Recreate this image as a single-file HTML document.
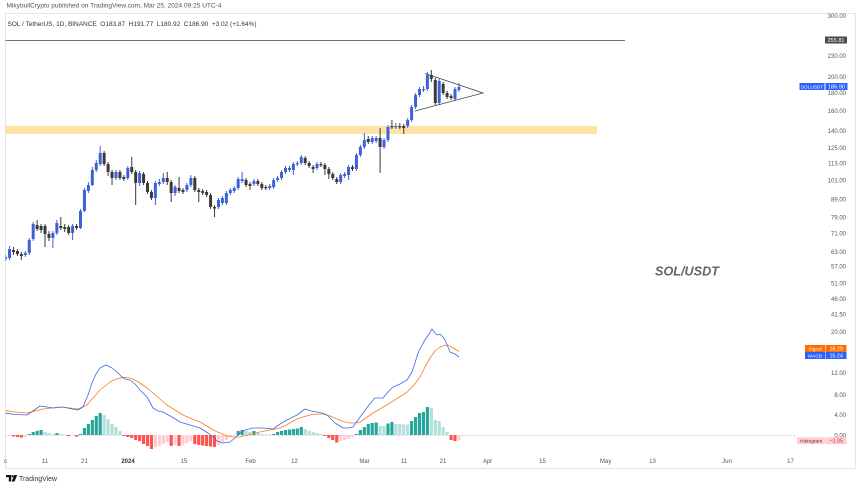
<!DOCTYPE html>
<html><head><meta charset="utf-8"><style>
html,body{margin:0;padding:0;background:#fff;}
svg{display:block;}
text{font-family:"Liberation Sans",sans-serif;}
</style></head><body>
<svg width="860" height="488" viewBox="0 0 860 488" xmlns="http://www.w3.org/2000/svg">
<defs><clipPath id="c"><rect x="5.5" y="13.5" width="790" height="454"/></clipPath></defs>
<rect x="0" y="0" width="860" height="488" fill="#fff"/>
<text x="6.5" y="7.6" font-size="6.1" fill="#555" textLength="215" lengthAdjust="spacingAndGlyphs">MikybullCrypto published on TradingView.com, Mar 25, 2024 09:25 UTC-4</text>
<rect x="5.5" y="13.5" width="850" height="455" fill="none" stroke="#e3e5ea" stroke-width="1"/>
<text x="7.5" y="26" font-size="6.3" fill="#333" textLength="249" lengthAdjust="spacingAndGlyphs" xml:space="preserve">SOL / TetherUS, 1D, BINANCE  O183.87  H191.77  L180.92  C186.90  +3.02 (+1.64%)</text>

<!-- yellow zone & resistance line -->
<rect x="5.5" y="126" width="591.5" height="8" fill="#fde4a6"/>
<line x1="5.5" y1="40.5" x2="625" y2="40.5" stroke="#444" stroke-width="0.7"/>

<!-- watermark -->
<text x="687" y="275.5" text-anchor="middle" font-size="12.5" font-weight="bold" font-style="italic" fill="#666" textLength="64" lengthAdjust="spacingAndGlyphs">SOL/USDT</text>

<g clip-path="url(#c)">
<line x1="5.5" y1="435.5" x2="795" y2="435.5" stroke="#a0a3ab" stroke-width="0.6" stroke-dasharray="2,2"/>
<g transform="translate(5.6 0) scale(3.942 1)">
<!-- candles up -->
<path fill="none" stroke="#3d62d8" stroke-width="1" vector-effect="non-scaling-stroke" d="M0 255V261M1 246V260M5 251V257M6 238V255M7 222V241M12 231V248M13 220V235M17 224V240M19 209V229M20 188V212M21 182V193M22 167V186M23 160V172M24 146V166M28 170V180M31 166V180M34 171V186M38 181V205M39 179V186M40 173V184M43 185V196M46 183V192M47 175V187M54 198V209M55 196V205M56 191V205M57 188V195M58 186V193M59 177V190M60 172V183M63 179V186M67 184V190M68 178V189M69 176V182M70 170V180M71 166V174M72 166V172M73 162V175M74 161V166M75 155V165M79 162V170M85 173V184M86 172V178M87 165V180M89 153V171M90 145V157M91 133V149M93 136V144M94 136V143M96 138V149M97 125V142M99 123V129M102 118V128M103 105V122M104 93V109M105 87V97M106 86V92M107 72V91M110 79V105M114 87V101M115 83V92"/>
<path fill="#3d62d8" d="M-.38 257h.76v2h-.76zM.62 249h.76v9h-.76zM4.62 253h.76v2h-.76zM5.62 240h.76v13h-.76zM6.62 224h.76v15h-.76zM11.62 233h.76v5h-.76zM12.62 223h.76v10h-.76zM16.62 226h.76v7h-.76zM18.62 211h.76v17h-.76zM19.62 190h.76v21h-.76zM20.62 185h.76v6h-.76zM21.62 170h.76v15h-.76zM22.62 163h.76v7h-.76zM23.62 153h.76v11h-.76zM27.62 172h.76v6h-.76zM30.62 168h.76v10h-.76zM33.62 173h.76v10h-.76zM37.62 183h.76v15h-.76zM38.62 182h.76v2h-.76zM39.62 178h.76v4h-.76zM42.62 187h.76v6h-.76zM45.62 185h.76v5h-.76zM46.62 178h.76v7h-.76zM53.62 200h.76v7h-.76zM54.62 198h.76v5h-.76zM55.62 193h.76v10h-.76zM56.62 190h.76v3h-.76zM57.62 188h.76v3h-.76zM58.62 179h.76v9h-.76zM59.62 179h.76v2h-.76zM62.62 181h.76v3h-.76zM66.62 186h.76v2h-.76zM67.62 180h.76v7h-.76zM68.62 178h.76v2h-.76zM69.62 172h.76v6h-.76zM70.62 168h.76v4h-.76zM71.62 168h.76v2h-.76zM72.62 164h.76v6h-.76zM73.62 163h.76v1.2h-.76zM74.62 157h.76v6h-.76zM78.62 164h.76v4h-.76zM84.62 175h.76v7h-.76zM85.62 174h.76v2h-.76zM86.62 167h.76v8h-.76zM88.62 155h.76v14h-.76zM89.62 147h.76v8h-.76zM90.62 140h.76v7h-.76zM92.62 138h.76v4h-.76zM93.62 138h.76v3h-.76zM95.62 140h.76v7h-.76zM96.62 127h.76v13h-.76zM98.62 126h.76v1.2h-.76zM101.62 120h.76v6h-.76zM102.62 107h.76v13h-.76zM103.62 95h.76v12h-.76zM104.62 89h.76v6h-.76zM105.62 89h.76v1.2h-.76zM106.62 75h.76v14h-.76zM109.62 81h.76v22h-.76zM113.62 89h.76v10h-.76zM114.62 87h.76v3h-.76z"/>
<!-- candles down -->
<path fill="none" stroke="#3a3a3a" stroke-width="1" vector-effect="non-scaling-stroke" d="M2 247V255M3 249V256M4 252V260M8 220V231M9 224V233M10 224V247M11 231V241M14 217V230M15 224V232M16 225V235M18 224V230M25 151V166M26 162V176M27 170V185M29 170V180M30 175V181M32 157V174M33 170V205M35 172V185M36 181V194M37 190V200M41 172V185M42 180V202M44 177V193M45 188V194M48 176V192M49 188V202M50 189V195M51 190V197M52 193V209M53 205V217M61 178V187M62 182V190M64 179V186M65 182V190M66 185V190M76 156V165M77 161V168M78 165V173M80 162V167M81 163V175M82 167V179M83 172V180M84 177V184M88 165V171M92 136V144M95 128V173M98 120V129M100 123V129M101 124V134M108 70V82M109 78V105M111 82V95M112 91V99M113 94V100"/>
<path fill="#3a3a3a" d="M1.62 250h.76v2h-.76zM2.62 251h.76v3h-.76zM3.62 254h.76v2h-.76zM7.62 225h.76v4h-.76zM8.62 226h.76v4h-.76zM9.62 226h.76v8h-.76zM10.62 234h.76v4h-.76zM13.62 226h.76v2h-.76zM14.62 227h.76v2h-.76zM15.62 227h.76v6h-.76zM17.62 226h.76v2h-.76zM24.62 153h.76v11h-.76zM25.62 164h.76v8h-.76zM26.62 172h.76v6h-.76zM28.62 172h.76v6h-.76zM29.62 177h.76v2h-.76zM31.62 167h.76v5h-.76zM32.62 172h.76v11h-.76zM34.62 174h.76v9h-.76zM35.62 183h.76v9h-.76zM36.62 192h.76v6h-.76zM40.62 178h.76v4h-.76zM41.62 182h.76v11h-.76zM43.62 188h.76v3h-.76zM44.62 190h.76v2h-.76zM47.62 178h.76v12h-.76zM48.62 190h.76v2h-.76zM49.62 191h.76v2h-.76zM50.62 192h.76v3h-.76zM51.62 195h.76v12h-.76zM52.62 207h.76v1.5h-.76zM60.62 180h.76v5h-.76zM61.62 184h.76v2h-.76zM63.62 181h.76v3h-.76zM64.62 184h.76v4h-.76zM65.62 187h.76v1.2h-.76zM75.62 158h.76v5h-.76zM76.62 163h.76v3h-.76zM77.62 167h.76v2h-.76zM79.62 164h.76v1.2h-.76zM80.62 165h.76v4h-.76zM81.62 169h.76v5h-.76zM82.62 174h.76v4h-.76zM83.62 179h.76v3h-.76zM87.62 167h.76v2h-.76zM91.62 139h.76v3h-.76zM94.62 138h.76v9h-.76zM97.62 126h.76v1.2h-.76zM99.62 126h.76v1.2h-.76zM100.62 126h.76v2h-.76zM107.62 75h.76v4h-.76zM108.62 80h.76v23h-.76zM110.62 84h.76v9h-.76zM111.62 93h.76v4h-.76zM112.62 96h.76v2h-.76z"/>
<!-- histogram -->
<path fill="#26a69a" d="M5.6 434h.8v1h-.8zM6.6 432h.8v3h-.8zM7.6 431h.8v4h-.8zM8.6 430h.8v5h-.8zM12.6 433h.8v2h-.8zM18.6 434h.8v1h-.8zM19.6 428h.8v7h-.8zM20.6 424h.8v11h-.8zM21.6 420h.8v15h-.8zM22.6 416h.8v19h-.8zM23.6 413h.8v22h-.8zM58.6 431h.8v4h-.8zM59.6 430h.8v5h-.8zM62.6 431h.8v4h-.8zM67.6 434h.8v1h-.8zM68.6 432h.8v3h-.8zM69.6 431h.8v4h-.8zM70.6 430h.8v5h-.8zM71.6 429.5h.8v5.5h-.8zM72.6 429h.8v6h-.8zM73.6 428.5h.8v6.5h-.8zM74.6 427h.8v8h-.8zM88.6 434h.8v1h-.8zM89.6 430h.8v5h-.8zM90.6 427h.8v8h-.8zM91.6 424h.8v11h-.8zM92.6 423h.8v12h-.8zM93.6 422.5h.8v12.5h-.8zM96.6 423.5h.8v11.5h-.8zM97.6 422h.8v13h-.8zM102.6 421h.8v14h-.8zM103.6 417h.8v18h-.8zM104.6 413h.8v22h-.8zM105.6 412h.8v23h-.8zM106.6 407h.8v28h-.8z"/>
<path fill="#b2dfdb" d="M9.6 432h.8v3h-.8zM10.6 433h.8v2h-.8zM11.6 434h.8v1h-.8zM13.6 434h.8v1h-.8zM14.6 434.5h.8v.5h-.8zM24.6 415h.8v20h-.8zM25.6 419h.8v16h-.8zM26.6 424h.8v11h-.8zM27.6 427h.8v8h-.8zM28.6 431h.8v4h-.8zM60.6 431h.8v4h-.8zM61.6 432h.8v3h-.8zM63.6 433h.8v2h-.8zM64.6 434h.8v1h-.8zM65.6 434.5h.8v.5h-.8zM66.6 434.5h.8v.5h-.8zM75.6 429h.8v6h-.8zM76.6 431h.8v4h-.8zM77.6 432h.8v3h-.8zM78.6 433h.8v2h-.8zM79.6 434h.8v1h-.8zM94.6 426h.8v9h-.8zM95.6 426h.8v9h-.8zM98.6 424h.8v11h-.8zM99.6 424h.8v11h-.8zM100.6 424.5h.8v10.5h-.8zM101.6 424.5h.8v10.5h-.8zM107.6 408h.8v27h-.8zM108.6 420h.8v15h-.8zM109.6 421h.8v14h-.8zM110.6 427h.8v8h-.8zM111.6 432h.8v3h-.8z"/>
<path fill="#ff5252" d="M1.6 435h.8v1.5h-.8zM2.6 435h.8v2h-.8zM3.6 435h.8v2.5h-.8zM15.6 435h.8v1h-.8zM17.6 435h.8v1.5h-.8zM29.6 435h.8v1h-.8zM30.6 435h.8v2h-.8zM31.6 435h.8v3h-.8zM32.6 435h.8v5h-.8zM33.6 435h.8v6h-.8zM34.6 435h.8v9h-.8zM35.6 435h.8v11h-.8zM36.6 435h.8v14h-.8zM41.6 435h.8v11h-.8zM43.6 435h.8v11h-.8zM47.6 435h.8v9h-.8zM48.6 435h.8v10h-.8zM49.6 435h.8v10.5h-.8zM50.6 435h.8v11h-.8zM51.6 435h.8v11.5h-.8zM52.6 435h.8v12h-.8zM80.6 435h.8v1h-.8zM81.6 435h.8v3h-.8zM82.6 435h.8v5h-.8zM83.6 435h.8v7.5h-.8zM112.6 435h.8v5h-.8zM113.6 435h.8v6h-.8z"/>
<path fill="#ffcdd2" d="M-.4 435h.8v1h-.8zM.6 435h.8v1h-.8zM4.6 435h.8v2h-.8zM16.6 435h.8v.5h-.8zM37.6 435h.8v12h-.8zM38.6 435h.8v11h-.8zM39.6 435h.8v9h-.8zM40.6 435h.8v7h-.8zM42.6 435h.8v10h-.8zM44.6 435h.8v10h-.8zM45.6 435h.8v8h-.8zM46.6 435h.8v6h-.8zM53.6 435h.8v10h-.8zM54.6 435h.8v7h-.8zM55.6 435h.8v5h-.8zM56.6 435h.8v2h-.8zM57.6 435h.8v1h-.8zM84.6 435h.8v6h-.8zM85.6 435h.8v5h-.8zM86.6 435h.8v4h-.8zM87.6 435h.8v2h-.8zM114.6 435h.8v5.4h-.8z"/>
</g>
<!-- MACD lines -->
<polyline fill="none" stroke="#ff7a1a" stroke-width="0.8" stroke-linejoin="round" points="5,410.5 15,412 27,413 35,411 43,409 52,408 60,407 70,408 78,409 87,405 93,398 100,390 105,386 110,382 115,379.5 120,378 125,377.5 130,378 135,380 140,383 147,388 153,393 160,399 167,405 175,410 183,415 192,419 200,422 207,426 213,430 220,433 227,436 233,437 240,437 248,435 260,432 270,430 280,428 288,424 297,419 303,417 310,415 317,414 323,414 330,416 337,419 343,421.5 350,423 355,423 360,422 366,418 373,413 380,409 390,403 398,398 407,392 414,385 420,377 425,367 430,358 435,351 440,347 444,345.5 447,345 450,346 453,348 459,351.5"/>
<polyline fill="none" stroke="#3b6ae8" stroke-width="0.8" stroke-linejoin="round" points="5,413 15,414.5 27,415 33,411 40,406 47,407 53,408 63,407 72,409 78,410 83,407 88,395 92,383 96,374 100,368 106,365 112,368 117,372 122,377 125,379 130,380 135,384 140,390 147,397 153,408 158,411 163,412 172,417 180,422 190,425 200,428 208,433 213,437 217,441 223,443 230,442 235,438 240,433 245,430 253,428 263,428 273,429 280,424 287,420 297,415 305,409 311,411 317,412 322,413 327,415 331,419 335,423 340,426 343,428 348,428 353,427 358,420 363,413 369,405 375,398 379,398 383,398 388,392 393,387 400,384 407,380 412,372 415,363 418,353 422,345 425,340 429,334 432,329 435,333 437,335 440,334 443,337 445,340 448,347 450,352 455,354 459,357"/>
</g>

<!-- triangle -->
<path d="M425 73.5L483 93L415 111" fill="none" stroke="#444" stroke-width="0.8"/>

<!-- price axis labels -->
<g font-size="6" fill="#555" text-anchor="end">
<text x="846" y="18.1">300.00</text>
<text x="846" y="58">230.00</text>
<text x="846" y="79.1">200.00</text>
<text x="846" y="95">180.00</text>
<text x="846" y="112.8">160.00</text>
<text x="846" y="133.1">140.00</text>
<text x="846" y="150.1">125.00</text>
<text x="846" y="165.3">113.00</text>
<text x="846" y="182.3">101.00</text>
<text x="846" y="201.4">89.00</text>
<text x="846" y="219.4">79.00</text>
<text x="846" y="235.5">71.00</text>
<text x="846" y="253.8">63.00</text>
<text x="846" y="268.7">57.00</text>
<text x="846" y="285.4">51.00</text>
<text x="846" y="301">46.00</text>
<text x="846" y="316.6">41.50</text>
<text x="846" y="334.1">20.00</text>
<text x="846" y="374.8">12.00</text>
<text x="846" y="397">8.00</text>
<text x="846" y="417">4.00</text>
<text x="846" y="437.5">0.00</text>
</g>
<!-- price labels boxes -->
<rect x="825" y="36.5" width="22" height="7" fill="#4a4a4a"/>
<text x="836" y="42" font-size="5.6" fill="#fff" text-anchor="middle">255.81</text>
<rect x="799.5" y="83" width="25" height="7" fill="#2962ff"/>
<text x="812" y="88.3" font-size="4.8" fill="#fff" text-anchor="middle">SOLUSDT</text>
<rect x="825.5" y="83" width="22" height="7" fill="#2962ff"/>
<text x="836.5" y="88.5" font-size="5.6" fill="#fff" text-anchor="middle">186.90</text>
<rect x="805" y="345" width="20.5" height="7" fill="#ff6d00"/>
<text x="815.2" y="350.3" font-size="4.8" fill="#fff" text-anchor="middle">Signal</text>
<rect x="826" y="345" width="20.5" height="7" fill="#ff6d00"/>
<text x="836.2" y="350.5" font-size="5.4" fill="#fff" text-anchor="middle">16.29</text>
<rect x="805" y="352" width="20.5" height="7" fill="#2962ff"/>
<text x="815.2" y="357.3" font-size="4.8" fill="#fff" text-anchor="middle">MACD</text>
<rect x="826" y="352" width="20.5" height="7" fill="#2962ff"/>
<text x="836.2" y="357.5" font-size="5.4" fill="#fff" text-anchor="middle">15.24</text>
<rect x="797" y="437.3" width="28.5" height="6.8" fill="#ffcdd2"/>
<text x="811.2" y="442.5" font-size="4.9" fill="#5a3030" text-anchor="middle">Histogram</text>
<rect x="826" y="437.3" width="20.5" height="6.8" fill="#ffcdd2"/>
<text x="836.2" y="442.6" font-size="5.4" fill="#c23a3a" text-anchor="middle">−1.05</text>

<!-- time axis -->
<g font-size="6" fill="#555" text-anchor="middle">
<text x="5.6" y="463">c</text>
<text x="45" y="463">11</text>
<text x="84.5" y="463">21</text>
<text x="128" y="463" font-weight="bold" fill="#333">2024</text>
<text x="184" y="463">15</text>
<text x="250.5" y="463">Feb</text>
<text x="294.5" y="463">12</text>
<text x="364.5" y="463">Mar</text>
<text x="404" y="463">11</text>
<text x="443" y="463">21</text>
<text x="487.5" y="463">Apr</text>
<text x="542.5" y="463">15</text>
<text x="605.7" y="463">May</text>
<text x="652.5" y="463">13</text>
<text x="727" y="463">Jun</text>
<text x="790.5" y="463">17</text>
</g>

<!-- TradingView logo -->
<path d="M6 475h5.2v6.5h-2.4v-4.3H6z" fill="#131722"/>
<circle cx="12.6" cy="476.2" r="1.1" fill="#131722"/>
<path d="M14.2 475h3l-2.6 6.5h-3z" fill="#131722"/>
<text x="19" y="481" font-size="7.2" fill="#333" textLength="38" lengthAdjust="spacingAndGlyphs">TradingView</text>
</svg>
</body></html>
